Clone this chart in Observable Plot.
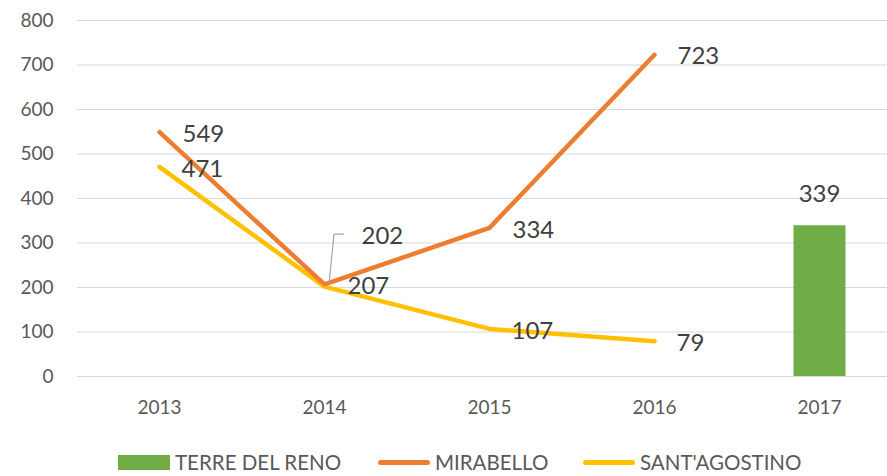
<!DOCTYPE html>
<html>
<head>
<meta charset="utf-8">
<script src="https://cdn.jsdelivr.net/npm/d3@7"></script>
<script src="https://cdn.jsdelivr.net/npm/@observablehq/plot@0.6"></script>
<style>
  body { margin: 0; background: #fff; font-family: Lato, "Open Sans", sans-serif; }
  #chart { position: relative; width: 887px; height: 476px; }
  .leg { position: absolute; top: 450px; display: flex; align-items: center; font-size: 20.5px; color: #595959; line-height: 24px; }
  .sw { display: inline-block; margin-right: 5px; }
</style>
</head>
<body>
<div id="chart"></div>
<script>
const years = [2013, 2014, 2015, 2016, 2017];
const yTicks = [0, 100, 200, 300, 400, 500, 600, 700, 800];
const mirabello = [549, 207, 334, 723];
const santAgostino = [471, 202, 107, 79];
const terreDelReno = [339];
const seriesNames = ["TERRE DEL RENO", "MIRABELLO", "SANT'AGOSTINO"];
const colors = ["#70AD47", "#ED7D31", "#FFC000"];

const mirData = mirabello.map((v, i) => ({year: years[i], value: v}));
const santData = santAgostino.map((v, i) => ({year: years[i], value: v}));
const barData = terreDelReno.map(v => ({year: 2017, value: v}));

const font = 'Lato, "Open Sans", sans-serif';

// leader line for the displaced "202" label
const leader = (index, scales) => {
  const x = scales.x(2014), y = scales.y(202);
  const p = document.createElementNS("http://www.w3.org/2000/svg", "path");
  p.setAttribute("d", `M${x + 5},${y - 2} L${x + 10},${y - 52} L${x + 20},${y - 52}`);
  p.setAttribute("fill", "none");
  p.setAttribute("stroke", "#a6a6a6");
  p.setAttribute("stroke-width", 1.2);
  return p;
};

const chart = Plot.plot({
  width: 887,
  height: 440,
  marginLeft: 77,
  marginRight: 0,
  marginTop: 20,
  marginBottom: 64,
  style: {fontFamily: font, background: "#fff"},
  x: {type: "point", domain: years, range: [158, 820], padding: 0, label: null},
  y: {domain: [0, 800], label: null},
  marks: [
    Plot.gridY(yTicks, {stroke: "#d9d9d9", strokeOpacity: 1, strokeWidth: 1.2}),
    Plot.axisY(yTicks, {tickSize: 0, tickPadding: 24, fontSize: 19, fill: "#595959", label: null}),
    Plot.axisX(years, {tickSize: 0, tickPadding: 24, fontSize: 19, fill: "#595959", label: null, tickFormat: d => String(d)}),
    Plot.ruleX(barData, {x: "year", y1: 0, y2: "value", stroke: colors[0], strokeWidth: 52}),
    Plot.line(santData, {x: "year", y: "value", stroke: colors[2], strokeWidth: 4.5, strokeLinejoin: "round"}),
    Plot.line(mirData, {x: "year", y: "value", stroke: colors[1], strokeWidth: 4.5, strokeLinejoin: "round"}),
    leader,
    Plot.text(mirData, {x: "year", y: "value", text: d => String(d.value), dx: 23, dy: 2, textAnchor: "start", fontSize: 24, fill: "#404040"}),
    Plot.text(santData.filter(d => d.year !== 2014), {x: "year", y: "value", text: d => String(d.value), dx: 22, dy: 2, textAnchor: "start", fontSize: 24, fill: "#404040"}),
    Plot.text(santData.filter(d => d.year === 2014), {x: "year", y: "value", text: d => String(d.value), dx: 37, dy: -50, textAnchor: "start", fontSize: 24, fill: "#404040"}),
    Plot.text(barData, {x: "year", y: "value", text: d => String(d.value), dy: -31, textAnchor: "middle", fontSize: 24, fill: "#404040"})
  ]
});

const root = document.getElementById("chart");
root.appendChild(chart);

const legendPos = [118, 378, 583];
seriesNames.forEach((name, i) => {
  const item = document.createElement("div");
  item.className = "leg";
  item.style.left = legendPos[i] + "px";
  const sw = document.createElement("span");
  sw.className = "sw";
  if (i === 0) {
    sw.style.width = "52px"; sw.style.height = "15px"; sw.style.background = colors[i];
  } else {
    sw.style.width = "52px"; sw.style.height = "5px"; sw.style.borderRadius = "3px"; sw.style.background = colors[i];
  }
  item.appendChild(sw);
  const t = document.createElement("span");
  t.textContent = name;
  item.appendChild(t);
  root.appendChild(item);
});
</script>
</body>
</html>
